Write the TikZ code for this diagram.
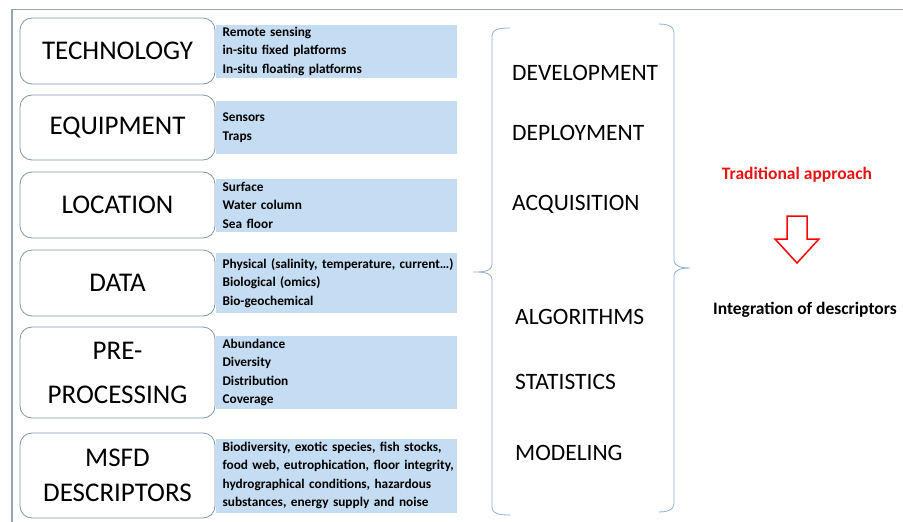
\documentclass[tikz,border=0pt]{standalone}
\usepackage{fontspec}
\setmainfont{Carlito}
\usepackage{tikz}
\usepackage{xcolor}
\usetikzlibrary{positioning}
\definecolor{framegray}{RGB}{150,166,184}
\definecolor{boxedge}{RGB}{128,150,172}
\definecolor{listblue}{RGB}{197,221,243}
\definecolor{bracecol}{RGB}{135,175,215}
\definecolor{redtxt}{RGB}{230,20,20}
\hyphenpenalty=10000

\begin{document}
\begin{tikzpicture}[x=1pt,y=-1pt,
  catbox/.style={draw=boxedge,line width=0.8pt,rounded corners=12pt,fill=white,minimum width=195pt,inner sep=0pt,align=center,font=\fontsize{27}{33}\selectfont},
  listbox/.style={fill=listblue,minimum width=241pt,text width=227pt,inner xsep=7pt,inner ysep=0pt,align=left,font=\fontsize{13.3}{18.5}\selectfont\bfseries},
  steplabel/.style={anchor=west,inner sep=0pt,font=\fontsize{23.5}{28}\selectfont}]
  \useasboundingbox (0,0) rectangle (903,522);
  \draw[framegray,line width=1.6pt] (12,522) -- (12,9.5) -- (903,9.5);
  \node[catbox,minimum height=66pt] (tech) at (117.5,51) {TECHNOLOGY};
  \node[catbox,minimum height=65pt] (equip) at (117.5,127.5) {EQUIPMENT};
  \node[catbox,minimum height=66pt] (loc) at (117.5,205) {LOCATION};
  \node[catbox,minimum height=66pt] (data) at (117.5,283) {DATA};
  \node[catbox,minimum height=91pt,font=\fontsize{27}{44}\selectfont] (prep) at (117.5,372.5) {PRE-\\PROCESSING};
  \node[catbox,minimum height=85pt,font=\fontsize{27}{35}\selectfont] (msfd) at (117.5,475.5) {MSFD\\DESCRIPTORS};
  \node[listbox,minimum height=53pt,right=0pt of tech] (techlist) {Remote sensing\\in-situ fixed platforms\\In-situ floating platforms};
  \node[listbox,minimum height=53pt,right=0pt of equip] (equiplist) {Sensors\\Traps};
  \node[listbox,minimum height=53pt,right=0pt of loc] (loclist) {Surface\\Water column\\Sea floor};
  \node[listbox,minimum height=60pt,right=0pt of data] (datalist) {Physical~(salinity,~temperature,~current\dots)\\Biological (omics)\\Bio-geochemical};
  \node[listbox,minimum height=73pt,right=0pt of prep] (preplist) {Abundance\\Diversity\\Distribution\\Coverage};
  \node[listbox,minimum height=74pt,right=0pt of msfd] (msfdlist) {Biodiversity,~exotic~species,~fish~stocks,\\food~web,~eutrophication,~floor~integrity,\\hydrographical conditions, hazardous\\substances, energy supply and noise};
  \draw[bracecol,line width=0.8pt] (510,28) to[out=180,in=90] (492,36) -- (492,264) to[out=-90,in=0] (473,272) to[out=0,in=90] (492,280) -- (492,507) to[out=-90,in=180] (510,515);
  \draw[bracecol,line width=0.8pt] (659,24) to[out=0,in=90] (674,32) -- (674,260) to[out=-90,in=180] (690,268) to[out=180,in=90] (674,276) -- (674,504) to[out=-90,in=0] (659,512);
  \node[steplabel] (dev) at (512,73) {DEVELOPMENT};
  \node[steplabel] (depl) at (512,133) {DEPLOYMENT};
  \node[steplabel] (acq) at (512,204) {ACQUISITION};
  \node[steplabel] (algo) at (515,317) {ALGORITHMS};
  \node[steplabel] (stat) at (515,382) {STATISTICS};
  \node[steplabel] (model) at (515,453) {MODELING};
  \node[redtxt,font=\fontsize{17.5}{20}\selectfont\bfseries] (trad) at (797,175) {Traditional approach};
  \draw[red,line width=1.5pt,line join=miter] (787,216) -- (807,216) -- (807,239) -- (819,239) -- (797,263) -- (775,239) -- (787,239) -- cycle;
  \node[font=\fontsize{17.5}{20}\selectfont\bfseries] (integ) at (805,310) {Integration of descriptors};
\end{tikzpicture}
\end{document}
